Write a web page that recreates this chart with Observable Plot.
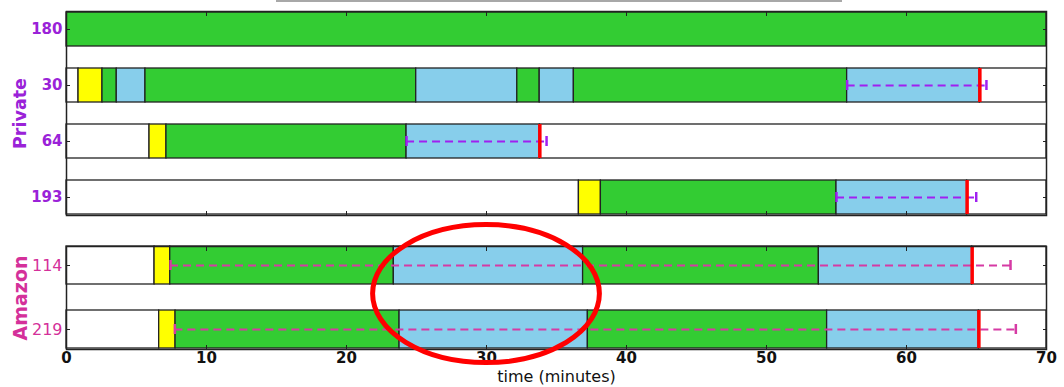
<!DOCTYPE html>
<html>
<head>
<meta charset="utf-8">
<script src="https://cdn.jsdelivr.net/npm/d3@7"></script>
<script src="https://cdn.jsdelivr.net/npm/@observablehq/plot@0.6"></script>
<style>
  html, body { margin: 0; padding: 0; background: #fff; }
  #wrap { position: relative; width: 1064px; height: 387px; font-family: "DejaVu Sans", sans-serif; }
  #wrap svg { display: block; overflow: visible; }
  #topline { position: absolute; left: 276px; top: 0; width: 566px; height: 2px; background: #a8a8a8; }
</style>
</head>
<body>
<div id="wrap"><div id="topline"></div></div>
<script>
// ---- data (minutes) ----
const privateRows = ["180", "30", "64", "193"];
const amazonRows = ["114", "219"];
const xTicks = [0, 10, 20, 30, 40, 50, 60, 70];

// segments: [row, start, end, state]
const segments = [
  ["180", 0, 70, "G"],
  ["30", 0, 0.86, "W"], ["30", 0.86, 2.57, "Y"], ["30", 2.57, 3.59, "G"], ["30", 3.59, 5.64, "B"],
  ["30", 5.64, 24.98, "G"], ["30", 24.98, 32.2, "B"], ["30", 32.2, 33.8, "G"], ["30", 33.8, 36.24, "B"],
  ["30", 36.24, 55.76, "G"], ["30", 55.76, 65.24, "B"], ["30", 65.24, 70, "W"],
  ["64", 0, 5.93, "W"], ["64", 5.93, 7.14, "Y"], ["64", 7.14, 24.29, "G"], ["64", 24.29, 33.81, "B"], ["64", 33.81, 70, "W"],
  ["193", 0, 36.6, "W"], ["193", 36.6, 38.17, "Y"], ["193", 38.17, 55.0, "G"], ["193", 55.0, 64.33, "B"], ["193", 64.33, 70, "W"],
  ["114", 0, 6.29, "W"], ["114", 6.29, 7.41, "Y"], ["114", 7.41, 23.38, "G"], ["114", 23.38, 36.9, "B"],
  ["114", 36.9, 53.74, "G"], ["114", 53.74, 64.69, "B"], ["114", 64.69, 70, "W"],
  ["219", 0, 6.62, "W"], ["219", 6.62, 7.79, "Y"], ["219", 7.79, 23.79, "G"], ["219", 23.79, 37.24, "B"],
  ["219", 37.24, 54.33, "G"], ["219", 54.33, 65.17, "B"], ["219", 65.17, 70, "W"]
];
// red end marks: [row, time]
const endMarks = [["30", 65.24], ["64", 33.81], ["193", 64.33], ["114", 64.69], ["219", 65.17]];
// dashed spans: [row, start, end]
const dashSpans = [["30", 55.76, 65.71], ["64", 24.29, 34.29], ["193", 55.0, 64.98], ["114", 7.43, 67.43], ["219", 7.74, 67.81]];

const stateColor = { W: "#ffffff", Y: "#ffff00", G: "#33cc33", B: "#87ceeb" };
const purpleText = "#9a22d8", purpleDash = "#a020f0";
const pinkText = "#d4309a", pinkDash = "#d63aa4";

// ellipse annotation (data coords: centre minute, half-width minutes)
const ellipseNote = { centerMin: 30, halfWidthMin: 8.1 };

const segObjs = segments.map(([row, start, end, state]) => ({ row, start, end, state }));
const endObjs = endMarks.map(([row, t]) => ({ row, t }));
const dashObjs = dashSpans.map(([row, start, end]) => ({ row, start, end }));
const capObjs = dashObjs.flatMap(d => [{ row: d.row, t: d.start }, { row: d.row, t: d.end }]);

function panel(rows, opts) {
  const inRows = d => rows.includes(d.row);
  const marks = [
    Plot.barX(segObjs.filter(inRows), { x1: "start", x2: "end", y: "row", fill: d => stateColor[d.state], stroke: "#222", strokeWidth: 1.3 }),
    Plot.ruleY(dashObjs.filter(inRows), { y: "row", x1: "start", x2: "end", stroke: opts.dash, strokeWidth: 2, strokeDasharray: "8,5" }),
    Plot.tickX(capObjs.filter(inRows), { x: "t", y: "row", stroke: opts.dash, strokeWidth: 2.5, insetTop: opts.capInset, insetBottom: opts.capInset }),
    Plot.tickX(endObjs.filter(inRows), { x: "t", y: "row", stroke: "#ff0000", strokeWidth: 3.5 }),
    Plot.frame({ stroke: "#222", strokeWidth: 1.5 }),
    Plot.axisX({ anchor: "top", ticks: xTicks, tickSize: -4, tickFormat: () => "", label: null, stroke: "#222" }),
    Plot.axisX({ anchor: "bottom", ticks: xTicks, tickSize: -4, tickPadding: 7, label: null, stroke: "#222",
      tickFormat: opts.xLabels ? d => String(d) : () => "", fontSize: 15, fontWeight: "bold", fill: "#111" }),
    Plot.axisY({ anchor: "left", tickSize: -4, tickPadding: 8, label: null, fill: opts.text, fontSize: opts.yFont, fontWeight: opts.yWeight, stroke: "#222" }),
    Plot.axisY({ anchor: "right", tickSize: -4, tickFormat: () => "", label: null, stroke: "#222" }),
    Plot.text([opts.group], { frameAnchor: "left", textAnchor: "middle", lineAnchor: "middle", rotate: -90, dx: -46, text: d => d, fill: opts.text, fontWeight: "bold", fontSize: opts.groupSize })
  ];
  if (opts.xLabels) {
    marks.push(Plot.text(["time (minutes)"], { frameAnchor: "bottom", lineAnchor: "middle", dy: 27, text: d => d, fontSize: 16, fill: "#111" }));
  }
  if (opts.ellipse) {
    marks.push((index, scales, values, dim) => {
      const cx = scales.x(ellipseNote.centerMin);
      const rx = scales.x(ellipseNote.centerMin + ellipseNote.halfWidthMin) - cx;
      const h = dim.height - dim.marginTop - dim.marginBottom;
      const cy = dim.marginTop + h * 0.462;
      const ry = h * 0.67;
      return d3.create("svg:ellipse").attr("cx", cx).attr("cy", cy).attr("rx", rx).attr("ry", ry)
        .attr("fill", "none").attr("stroke", "#ff0000").attr("stroke-width", 5).node();
    });
  }
  return Plot.plot({
    width: 1064,
    height: opts.height,
    marginLeft: 66,
    marginRight: 18,
    marginTop: opts.mt,
    marginBottom: opts.mb,
    style: { fontFamily: "DejaVu Sans, sans-serif", background: "transparent", overflow: "visible" },
    x: { domain: [0, 70] },
    y: { domain: rows, paddingInner: 0.4, paddingOuter: 0 },
    marks
  });
}

const wrap = document.getElementById("wrap");
wrap.appendChild(panel(privateRows, { height: 218, mt: 11, mb: 3, dash: purpleDash, text: purpleText, capInset: 12, group: "Private", groupSize: 17.5, yFont: 15, yWeight: "bold", xLabels: false }));
wrap.appendChild(panel(amazonRows, { height: 169, mt: 28, mb: 38, dash: pinkDash, text: pinkText, capInset: 14, group: "Amazon", groupSize: 19, yFont: 16, yWeight: "normal", xLabels: true, ellipse: true }));
</script>
</body>
</html>
